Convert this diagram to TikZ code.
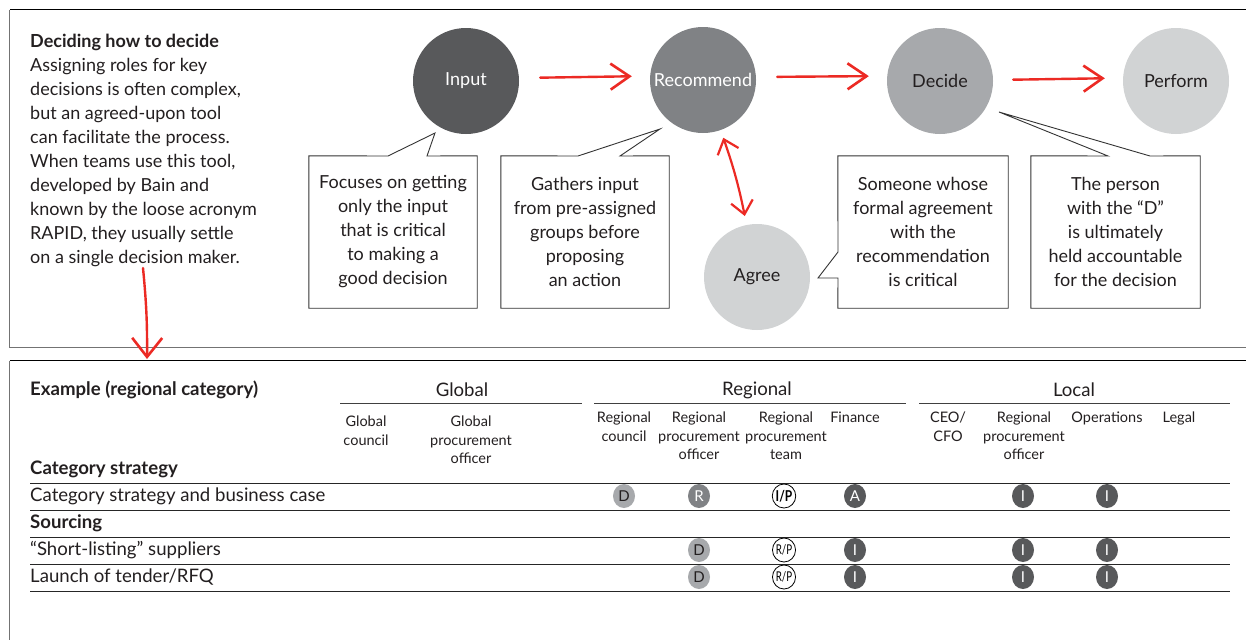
\documentclass[tikz,border=0pt]{standalone}
\usepackage{fontspec}
\setmainfont{Lato}
\usetikzlibrary{arrows.meta,shapes.geometric}
\definecolor{cA}{HTML}{58595B}
\definecolor{cB}{HTML}{808285}
\definecolor{cC}{HTML}{A7A9AC}
\definecolor{cD}{HTML}{D1D3D4}
\definecolor{txt}{HTML}{231F20}
\definecolor{redc}{HTML}{EC2A24}
\newcommand\fmain{\fontsize{18}{24}\selectfont}
\newcommand\frow{\fontsize{18.6}{24}\selectfont}
\newcommand\fsmall{\fontsize{14.5}{18.5}\selectfont}
\newcommand\fmark{\fontsize{15}{15}\selectfont}
\begin{document}
\begin{tikzpicture}[x=1pt,y=-1pt,
  circ/.style={circle, minimum size=106pt, inner sep=0pt, font=\fmain},
  cbox/.style={rectangle, minimum height=152pt, inner sep=0pt, align=center, font=\fmain, text=txt},
  cline/.style={draw=black!80, line width=0.9pt, line join=miter},
  redarrow/.style={draw=redc, line width=2.4pt, line cap=round,
     -{Straight Barb[length=19pt,width=26pt,line width=2.6pt]}},
  reddown/.style={draw=redc, line width=2.4pt, line cap=round,
     -{Straight Barb[length=19pt,width=30pt,line width=2.6pt]}},
  redboth/.style={draw=redc, line width=2.2pt, line cap=round,
     {Straight Barb[length=13pt,width=22pt,line width=2.2pt]}-{Straight Barb[length=13pt,width=22pt,line width=2.2pt]}},
  rowline/.style={draw=black!85, line width=0.8pt},
  grpline/.style={draw=black!75, line width=1pt},
  subh/.style={font=\fsmall, align=center, anchor=north, text=txt, inner sep=0pt},
  mk/.style={ellipse, minimum width=22pt, minimum height=24pt, inner sep=0pt, font=\fmark},
  mko/.style={mk, draw=black, line width=0.8pt, fill=white, text=black},
  rowtxt/.style={anchor=west, font=\frow, text=txt, inner sep=0pt}
]
\useasboundingbox[fill=white] (0,0) rectangle (1246,640);

% frames
\draw[black, line width=0.9pt] (1246,9.5) -- (9.5,9.5);
\draw[black!55, line width=0.9pt] (9.5,9.5) -- (9.5,347) -- (1246,347);
\draw[black, line width=0.9pt] (1246,360.5) -- (9.5,360.5);
\draw[black!55, line width=0.9pt] (9.5,360.5) -- (9.5,640);

% left text
\node[anchor=west, align=left, font=\fmain, text=txt, inner sep=0pt] (intro) at (30,150)
 {\textbf{Deciding how to decide}\\
  Assigning roles for key\\
  decisions is often complex,\\
  but an agreed-upon tool\\
  can facilitate the process.\\
  When teams use this tool,\\
  developed by Bain and\\
  known by the loose acronym\\
  RAPID, they usually settle\\
  on a single decision maker.};

% circles
\node[circ, fill=cA, text=white] (in) at (466,81) {Input};
\node[circ, fill=cB, text=white] (rec) at (703,80) {Recommend};
\node[circ, fill=cC, text=txt] (dec) at (940,81) {Decide};
\node[circ, fill=cD, text=txt] (perf) at (1176,81) {Perform};
\node[circ, fill=cD, text=txt] (agr) at (757,277) {Agree};

% red arrows
\draw[redarrow, shorten <=21pt, shorten >=18pt] ([yshift=3pt]in.east) -- ([yshift=4pt]rec.west);
\draw[redarrow, shorten <=21pt, shorten >=18pt] ([yshift=3pt]rec.east) -- ([yshift=5pt]dec.west);
\draw[redarrow, shorten <=20pt, shorten >=18pt] ([yshift=1pt]dec.east) -- ([yshift=3pt]perf.west);
\draw[redboth, shorten <=8pt, shorten >=9pt] (rec) to[bend left=4] (agr);
\coordinate (dtop) at (143,268);
\coordinate (dbot) at (147,359);
\draw[reddown] (dtop) to[bend left=3] (dbot);

% callouts
\node[cbox, minimum width=168pt] (b1) at (393,232) {Focuses on getting\\only the input\\that is critical\\to making a\\good decision};
\node[cbox, minimum width=168pt] (b2) at (585,232) {Gathers input\\from pre-assigned\\groups before\\proposing\\an action};
\node[cbox, minimum width=170pt] (b3) at (923,232) {Someone whose\\formal agreement\\with the\\recommendation\\is critical};
\node[cbox, minimum width=169pt] (b4) at (1115.5,232) {The person\\with the ``D''\\is ultimately\\held accountable\\for the decision};
\coordinate (p1) at (435,133);
\coordinate (p2) at (660,129);
\coordinate (p3) at (818,278);
\coordinate (p4) at (999,112);
\draw[cline] (b1.north west) -- (388,156) -- (p1) -- (427,156) -- (b1.north east) -- (b1.south east) -- (b1.south west) -- cycle;
\draw[cline] (b2.north west) -- (578,156) -- (p2) -- (620,156) -- (b2.north east) -- (b2.south east) -- (b2.south west) -- cycle;
\draw[cline] (b3.north west) -- (b3.north east) -- (b3.south east) -- (b3.south west) -- (838,278) -- (p3) -- (838,252) -- cycle;
\draw[cline] (b4.north west) -- (1108,156) -- (p4) -- (1150,156) -- (b4.north east) -- (b4.south east) -- (b4.south west) -- cycle;

% table heading
\node[rowtxt, font=\frow\bfseries] (ex) at (30,390) {Example (regional category)};
\node[font=\frow, text=txt, inner sep=0pt] (hglob) at (462,390) {Global};
\node[font=\frow, text=txt, inner sep=0pt] (hreg) at (757,390) {Regional};
\node[font=\frow, text=txt, inner sep=0pt] (hloc) at (1074,390) {Local};
\draw[grpline] (340,403) -- (582,403);
\draw[grpline] (594,403) -- (906,403);
\draw[grpline] (919,403) -- (1230,403);

\node[subh] (s1) at (366,416) {Global\\council};
\node[subh] (s2) at (471,416) {Global\\procurement\\officer};
\node[subh] (s3) at (624,412) {Regional\\council};
\node[subh] (s4) at (699,412) {Regional\\procurement\\officer};
\node[subh] (s5) at (786,412) {Regional\\procurement\\team};
\node[subh] (s6) at (855,412) {Finance};
\node[subh] (s7) at (948,412) {CEO/\\CFO};
\node[subh] (s8) at (1024,412) {Regional\\procurement\\officer};
\node[subh] (s9) at (1107,412) {Operations};
\node[subh] (s10) at (1179,412) {Legal};

% rows
\node[rowtxt, font=\frow\bfseries] (r0) at (30,469) {Category strategy};
\node[rowtxt] (r1) at (30,496) {Category strategy and business case};
\node[rowtxt, font=\frow\bfseries] (r2) at (30,523) {Sourcing};
\node[rowtxt] (r3) at (30,550) {``Short-listing'' suppliers};
\node[rowtxt] (r4) at (30,577) {Launch of tender/RFQ};
\foreach \yy in {483,510,537,564,591}{\draw[rowline] (30,\yy) -- (1230,\yy);}

% markers row 1
\node[mk, fill=cC, text=txt] (m1a) at (624,496) {D};
\node[mk, fill=cB, text=white] (m1b) at (699,496) {R};
\node[mko] (m1c) at (784,496) {\scalebox{0.8}[1]{\bfseries I/P}};
\node[mk, fill=cA, text=white] (m1d) at (855,496) {A};
\node[mk, fill=cA, text=white] (m1e) at (1023,496) {I};
\node[mk, fill=cA, text=white] (m1f) at (1107,496) {I};
% row 3
\node[mk, fill=cC, text=txt] (m3a) at (699,550) {D};
\node[mko] (m3b) at (784,550) {\scalebox{0.72}[1]{\fontsize{13.5}{13.5}\selectfont R/P}};
\node[mk, fill=cA, text=white] (m3c) at (855,550) {I};
\node[mk, fill=cA, text=white] (m3d) at (1023,550) {I};
\node[mk, fill=cA, text=white] (m3e) at (1107,550) {I};
% row 4
\node[mk, fill=cC, text=txt] (m4a) at (699,577) {D};
\node[mko] (m4b) at (784,577) {\scalebox{0.72}[1]{\fontsize{13.5}{13.5}\selectfont R/P}};
\node[mk, fill=cA, text=white] (m4c) at (855,577) {I};
\node[mk, fill=cA, text=white] (m4d) at (1023,577) {I};
\node[mk, fill=cA, text=white] (m4e) at (1107,577) {I};
\end{tikzpicture}
\end{document}
